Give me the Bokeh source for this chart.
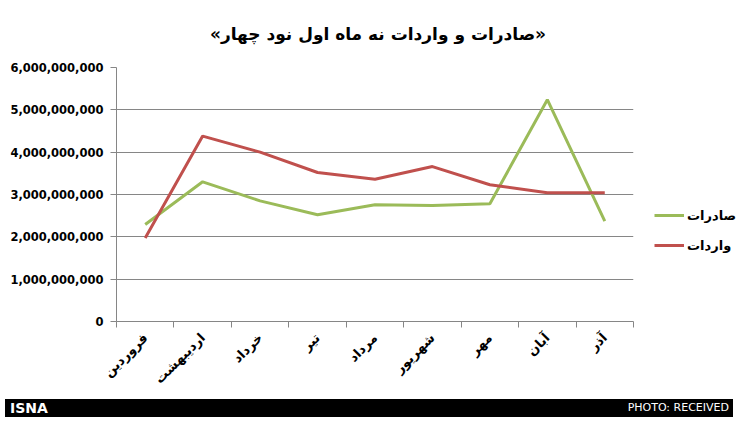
import math
from bokeh.plotting import figure
from bokeh.layouts import column
from bokeh.models import (Range1d, FixedTicker, NumeralTickFormatter, Legend, LegendItem,
                          ColumnDataSource, Label, Div)
from bokeh.embed import file_html
from bokeh.resources import INLINE

# ---- data ----
title_text = "«صادرات و واردات نه ماه اول نود چهار»"
months = ["فروردین", "اردیبهشت", "خرداد", "تیر", "مرداد", "شهریور", "مهر", "آبان", "آذر"]
exports = [2.29e9, 3.30e9, 2.85e9, 2.52e9, 2.76e9, 2.74e9, 2.78e9, 5.24e9, 2.37e9]
imports = [1.97e9, 4.38e9, 4.00e9, 3.52e9, 3.36e9, 3.66e9, 3.23e9, 3.04e9, 3.04e9]
y_ticks = [0, 1e9, 2e9, 3e9, 4e9, 5e9, 6e9]
series_names = ["صادرات", "واردات"]
series_colors = ["#9BBB59", "#C0504D"]
credit_left = "ISNA"
credit_right = "PHOTO: RECEIVED"

xs = [i + 0.5 for i in range(len(months))]
src = ColumnDataSource(dict(x=xs, exports=exports, imports=imports))

FONT = "DejaVu Sans"
GRAY = "#868686"
LEFT, RIGHT, FW = 116, 95, 517

# ---- title strip ----
head = figure(output_backend="svg", toolbar_location=None, frame_width=FW, height=50,
              min_border_left=LEFT, min_border_right=RIGHT, min_border_top=0, min_border_bottom=0,
              x_range=Range1d(0, 1), y_range=Range1d(0, 1))
head.axis.visible = False
head.grid.visible = False
head.outline_line_color = None
head.background_fill_color = "white"
head.border_fill_color = "white"
head.add_layout(Label(x=FW / 2 + 3, y=17, x_units="screen", y_units="screen", text=title_text,
                      text_font=FONT, text_font_style="bold", text_font_size="17px",
                      text_color="black", text_align="center", text_baseline="middle"))

# ---- main chart ----
p = figure(output_backend="svg", toolbar_location=None,
           frame_width=FW, frame_height=254,
           min_border_left=LEFT, min_border_right=RIGHT, min_border_top=17, min_border_bottom=68,
           x_range=Range1d(0, len(months)), y_range=Range1d(0, 6e9))
p.background_fill_color = "white"
p.border_fill_color = "white"
p.outline_line_color = None

r1 = p.line("x", "exports", source=src, line_color=series_colors[0], line_width=3)
r2 = p.line("x", "imports", source=src, line_color=series_colors[1], line_width=3)

# x axis
xa = p.xaxis[0]
xa.ticker = FixedTicker(ticks=xs, minor_ticks=list(range(len(months) + 1)))
xa.major_label_overrides = {float(x): m for x, m in zip(xs, months)}
xa.major_label_orientation = math.pi / 4
xa.major_tick_line_color = None
xa.minor_tick_line_color = GRAY
xa.minor_tick_out = 6
xa.minor_tick_in = 0
xa.axis_line_color = GRAY
xa.major_label_text_font = FONT
xa.major_label_text_font_style = "bold"
xa.major_label_text_font_size = "13px"
xa.major_label_text_color = "black"
xa.major_label_standoff = 8

# y axis
ya = p.yaxis[0]
ya.ticker = FixedTicker(ticks=y_ticks, minor_ticks=[])
ya.formatter = NumeralTickFormatter(format="0,0")
ya.axis_line_color = GRAY
ya.major_tick_line_color = GRAY
ya.major_tick_out = 6
ya.major_tick_in = 0
ya.major_label_text_font = FONT
ya.major_label_text_font_style = "bold"
ya.major_label_text_font_size = "11.5px"
ya.major_label_text_color = "black"
ya.major_label_standoff = 7

p.xgrid.grid_line_color = None
p.ygrid.grid_line_color = GRAY
p.ygrid.grid_line_width = 1

legend = Legend(items=[LegendItem(label=series_names[0], renderers=[r1]),
                       LegendItem(label=series_names[1], renderers=[r2])],
                location=(21, 66), padding=0, margin=0, spacing=10,
                glyph_width=30, glyph_height=20, label_standoff=3,
                label_text_font=FONT, label_text_font_style="bold",
                label_text_font_size="13px", label_text_color="black",
                border_line_color=None, background_fill_alpha=0)
p.add_layout(legend, "right")

# ---- bottom credit bar ----
bar = Div(width=728, height=18,
          text=('<div style="display:flex;justify-content:space-between;align-items:center;'
                'background:#000;color:#fff;width:728px;height:18px;box-sizing:border-box;'
                'padding:0 4px 0 5px;font-family:\'DejaVu Sans\';">'
                f'<span style="font-size:14px;font-weight:bold;">{credit_left}</span>'
                f'<span style="font-size:11px;">{credit_right}</span></div>'))

layout = column(head, p, bar, spacing=0)
open("out.html", "w").write(file_html(layout, INLINE))
